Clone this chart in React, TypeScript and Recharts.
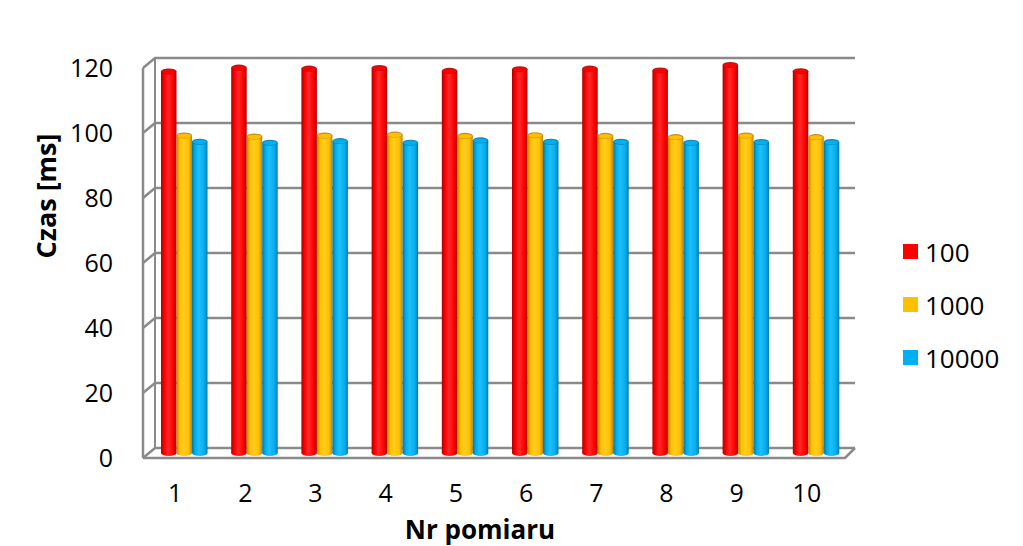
import { BarChart, Bar, XAxis, YAxis, CartesianGrid } from "recharts";

const POMIARY = ["1", "2", "3", "4", "5", "6", "7", "8", "9", "10"];
const CZAS_100 = [117.4, 118.6, 118.3, 118.5, 117.6, 118.1, 118.3, 117.7, 119.4, 117.5];
const CZAS_1000 = [97.7, 97.4, 97.7, 98.0, 97.6, 97.8, 97.6, 97.2, 97.7, 97.2];
const CZAS_10000 = [95.8, 95.5, 96.0, 95.5, 96.2, 95.8, 95.8, 95.5, 95.7, 95.7];
const Y_TICKS = [0, 20, 40, 60, 80, 100, 120];

const SERIE = [
  { key: "s100", name: "100", values: CZAS_100, color: "#FF0000", light: "#FF2A2A", dark: "#B00000" },
  { key: "s1000", name: "1000", values: CZAS_1000, color: "#FFC000", light: "#FFCC20", dark: "#C08400" },
  { key: "s10000", name: "10000", values: CZAS_10000, color: "#00B0F0", light: "#20BEF8", dark: "#0078A8" },
];

const dane = POMIARY.map((nr, i) => {
  const row: Record<string, string | number> = { nr };
  SERIE.forEach((s) => (row[s.key] = s.values[i]));
  return row;
});

const FONT = "'Open Sans', sans-serif";
const GRID = "#8a8a8a";
// przesunięcie ściany tylnej (3D)
const DEPTH_X = 12;
const DEPTH_Y = -10;
// słupki stoją w połowie głębokości
const BAR_DX = 6;
const BAR_DY = -5;

function Cylinder(props: any) {
  const { x, y, width, height, s } = props;
  if (!height || height <= 0) return null;
  const left = x + BAR_DX;
  const top = y + BAR_DY;
  const rx = width / 2;
  const ry = 3;
  return (
    <g>
      <ellipse cx={left + rx} cy={top + height} rx={rx} ry={ry} fill={`url(#cyl-${s.key})`} />
      <rect x={left} y={top} width={width} height={height} fill={`url(#cyl-${s.key})`} />
      <ellipse cx={left + rx} cy={top} rx={rx} ry={ry} fill={s.dark} opacity={0.9} />
      <ellipse cx={left + rx} cy={top + 0.4} rx={rx - 0.8} ry={ry - 0.8} fill={s.color} />
    </g>
  );
}

function GridLine(props: any) {
  const { x1, y1, x2, y, height } = props;
  const bx = x1 + DEPTH_X;
  const by = y1 + DEPTH_Y;
  const isTop = Math.abs(y1 - y) < 0.5;
  const isBottom = Math.abs(y1 - (y + height)) < 0.5;
  return (
    <g>
      <polyline
        points={`${x1},${y1} ${bx},${by} ${x2 + 10},${by}`}
        fill="none"
        stroke={GRID}
        strokeWidth={2.5}
      />
      {isTop && (
        <line x1={bx} y1={by} x2={bx} y2={y + height + DEPTH_Y} stroke={GRID} strokeWidth={2} />
      )}
      {isBottom && (
        <polyline
          points={`${x1},${y1} ${x2},${y1} ${x2 + 10},${by}`}
          fill="none"
          stroke={GRID}
          strokeWidth={2.5}
        />
      )}
    </g>
  );
}

function LegendaBoczna() {
  return (
    <div
      style={{
        position: "absolute",
        left: 903,
        top: 225,
        fontFamily: FONT,
        fontSize: 26,
        color: "#000",
      }}
    >
      {SERIE.map((s) => (
        <div key={s.key} style={{ display: "flex", alignItems: "center", height: 53 }}>
          <span style={{ width: 15, height: 15, background: s.color, marginRight: 7 }} />
          <span>{s.name}</span>
        </div>
      ))}
    </div>
  );
}

export default function App() {
  return (
    <div style={{ position: "absolute", left: 0, top: 0, width: 1023, height: 546, background: "#fff" }}>
      <BarChart
        width={1023}
        height={546}
        data={dane}
        margin={{ top: 68, right: 178, bottom: 0, left: 0 }}
        barGap={0}
        barSize={15.5}
      >
        <defs>
          {SERIE.map((s) => (
            <linearGradient key={s.key} id={`cyl-${s.key}`} x1="0" y1="0" x2="1" y2="0">
              <stop offset="0%" stopColor={s.dark} />
              <stop offset="22%" stopColor={s.color} />
              <stop offset="45%" stopColor={s.light} />
              <stop offset="78%" stopColor={s.color} />
              <stop offset="100%" stopColor={s.dark} />
            </linearGradient>
          ))}
        </defs>
        <CartesianGrid vertical={false} horizontal={(p: any) => <GridLine key={p.key} {...p} />} />
        <XAxis
          dataKey="nr"
          height={88}
          axisLine={false}
          tickLine={false}
          tickSize={0}
          tickMargin={26}
          dx={-3}
          tick={{ fontFamily: FONT, fontSize: 25, fill: "#000" }}
          label={() => (
            <text
              x={480}
              y={539}
              textAnchor="middle"
              fontFamily={FONT}
              fontSize={26}
              fontWeight="bold"
              fill="#000"
            >
              Nr pomiaru
            </text>
          )}
        />
        <YAxis
          width={143}
          domain={[0, 120]}
          ticks={Y_TICKS}
          axisLine={{ stroke: GRID, strokeWidth: 2.5 }}
          tickLine={false}
          tickSize={0}
          tickMargin={30}
          tick={{ fontFamily: FONT, fontSize: 25, fill: "#000" }}
          label={() => (
            <text
              x={45}
              y={196}
              textAnchor="middle"
              dominantBaseline="central"
              transform="rotate(-90 45 196)"
              fontFamily={FONT}
              fontSize={27}
              fontWeight="bold"
              fill="#000"
            >
              Czas [ms]
            </text>
          )}
        />
        {SERIE.map((s) => (
          <Bar
            key={s.key}
            dataKey={s.key}
            name={s.name}
            fill={s.color}
            isAnimationActive={false}
            shape={(p: any) => <Cylinder {...p} s={s} />}
          />
        ))}
      </BarChart>
      <LegendaBoczna />
    </div>
  );
}
